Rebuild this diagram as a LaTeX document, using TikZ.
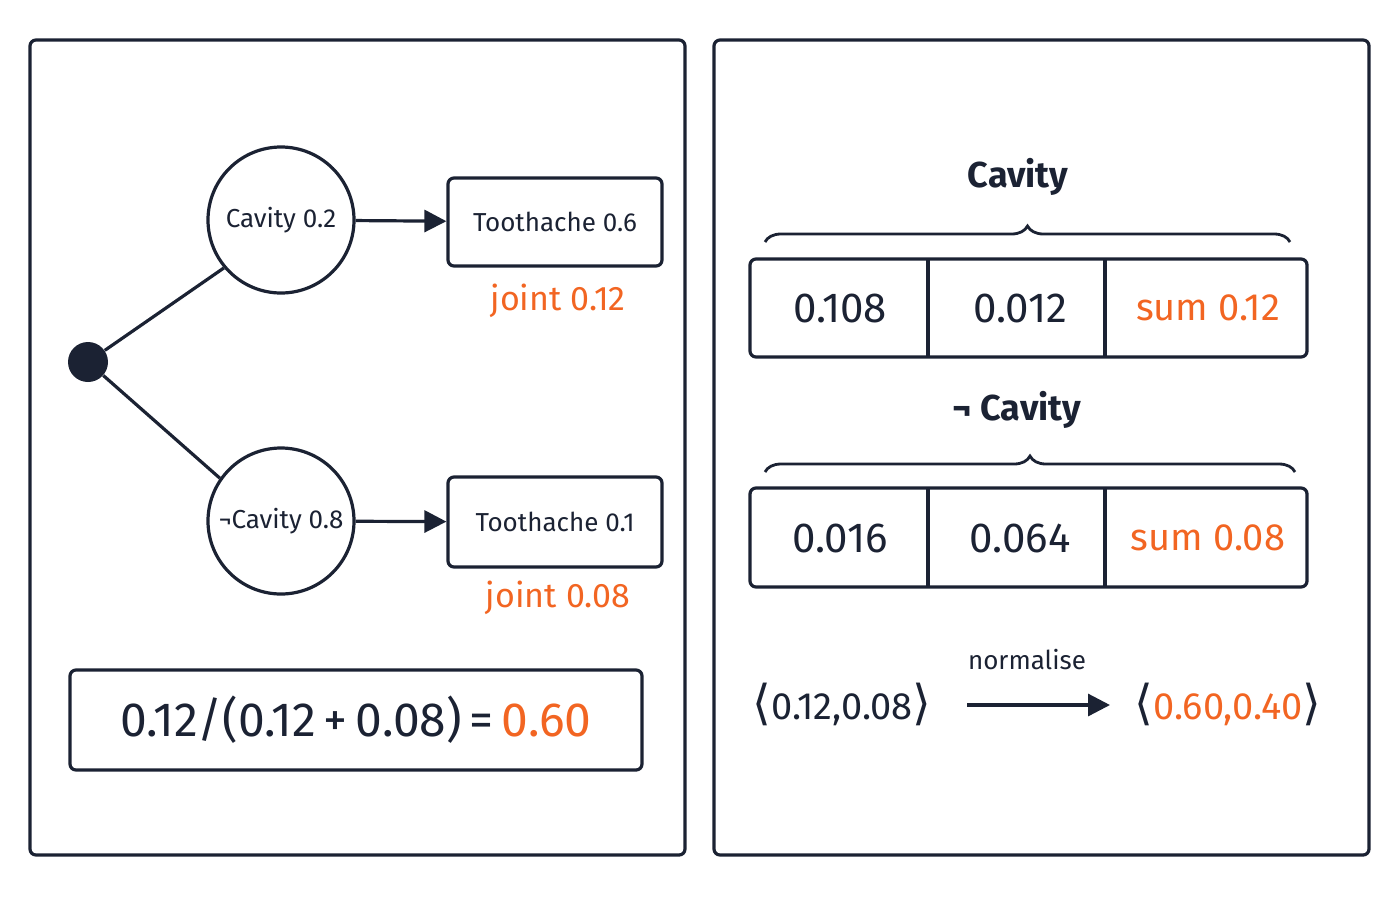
\documentclass[tikz,border=0pt]{standalone}
\usepackage{fontspec}
\setmainfont{Fira Sans}
\newfontfamily\djfont{DejaVu Sans}
\usetikzlibrary{arrows.meta,decorations.pathreplacing}
\definecolor{ink}{HTML}{1B2233}
\definecolor{org}{HTML}{F26522}
\begin{document}
\begin{tikzpicture}[x=0.5pt,y=-0.5pt,
  line/.style={draw=ink,line width=1.6pt},
  box/.style={line,rounded corners=3pt},
  txt/.style={text=ink,inner sep=0pt},
  arr/.style={line,-{Triangle[length=11pt,width=11pt]}},
  brc/.style={line,line width=1.4pt,decorate,decoration={brace,amplitude=8pt}}]
\useasboundingbox (0,0) rectangle (1400,900);
\draw[box] (30,40) rectangle (685,855);
\draw[box] (714,40) rectangle (1369,855);
% left
\node[circle,fill=ink,minimum size=20pt,inner sep=0] (dot) at (88,362) {};
\node[circle,line,minimum size=73pt,inner sep=0,txt,font=\fontsize{13}{15}\selectfont] (c1) at (281,220) {Cavity 0.2};
\node[circle,line,minimum size=73pt,inner sep=0,txt,font=\fontsize{13}{15}\selectfont] (c2) at (281,521) {¬Cavity 0.8};
\node[box,minimum width=107pt,minimum height=44pt,txt,font=\fontsize{13}{15}\selectfont] (t1) at (555,222) {Toothache 0.6};
\node[box,minimum width=107pt,minimum height=45pt,txt,font=\fontsize{13}{15}\selectfont] (t2) at (555,522) {Toothache 0.1};
\draw[line] (dot) -- (c1.220);
\draw[line] (dot) -- (c2.145);
\draw[arr] (c1) -- (t1);
\draw[arr] (c2) -- (t2);
\node[txt,text=org,font=\fontsize{17}{20}\selectfont] (j1) at (558,301) {joint 0.12};
\node[txt,text=org,font=\fontsize{17}{20}\selectfont] (j2) at (558,598) {joint 0.08};
\node[box,minimum width=286pt,minimum height=50pt,txt,font=\fontsize{24}{28}\selectfont] (f) at (356,720) {0.12/(0.12\,+\,0.08)\,=\,\textcolor{org}{0.60}};
% right
\node[txt,font=\fontsize{18}{21}\selectfont\bfseries] (h1) at (1018,177) {Cavity};
\draw[brc] (765,242) -- (1290,242);
\draw[box] (750,259) rectangle (1307,357);
\draw[line] (928,259) -- (928,357) (1105,259) -- (1105,357);
\node[txt,font=\fontsize{21}{25}\selectfont] (a1) at (840,308) {0.108};
\node[txt,font=\fontsize{21}{25}\selectfont] (a2) at (1020,308) {0.012};
\node[txt,text=org,font=\fontsize{19}{22}\selectfont] (a3) at (1208,308) {sum 0.12};
\node[txt,font=\fontsize{18}{21}\selectfont\bfseries] (h2) at (1017,410) {¬ Cavity};
\draw[brc] (765,472) -- (1295,472);
\draw[box] (750,488) rectangle (1307,587);
\draw[line] (928,488) -- (928,587) (1105,488) -- (1105,587);
\node[txt,font=\fontsize{21}{25}\selectfont] (b1) at (840,538) {0.016};
\node[txt,font=\fontsize{21}{25}\selectfont] (b2) at (1020,538) {0.064};
\node[txt,text=org,font=\fontsize{19}{22}\selectfont] (b3) at (1208,538) {sum 0.08};
\node[txt,font=\fontsize{13}{15}\selectfont] (n) at (1027,660) {normalise};
\node[txt,font=\fontsize{19}{22}\selectfont] (v1) at (842,704) {{\djfont\fontsize{24}{26}\selectfont ⟨}0.12,0.08{\djfont\fontsize{24}{26}\selectfont ⟩}};
\node[txt,text=org,font=\fontsize{19}{22}\selectfont] (v2) at (1228,704) {{\djfont\fontsize{24}{26}\selectfont\color{ink}⟨}0.60,0.40{\djfont\fontsize{24}{26}\selectfont\color{ink}⟩}};
\coordinate (p) at (967,705);
\coordinate (q) at (1110,705);
\draw[arr] (p) -- (q);
\end{tikzpicture}
\end{document}
